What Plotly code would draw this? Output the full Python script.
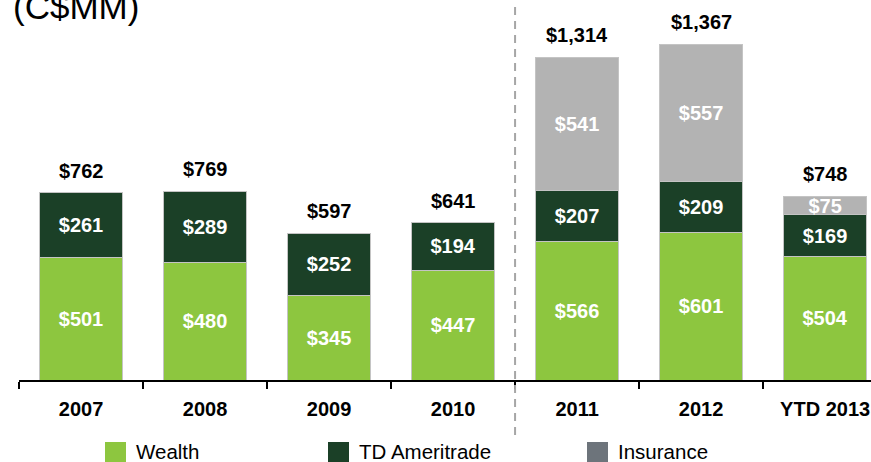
import plotly.graph_objects as go

categories = ["2007", "2008", "2009", "2010", "2011", "2012", "YTD 2013"]
wealth = [501, 480, 345, 447, 566, 601, 504]
td_ameritrade = [261, 289, 252, 194, 207, 209, 169]
insurance = [None, None, None, None, 541, 557, 75]
series_names = ["Wealth", "TD Ameritrade", "Insurance"]
totals = [w + t + (i or 0) for w, t, i in zip(wealth, td_ameritrade, insurance)]

FONT = "Arial, Liberation Sans, sans-serif"
W, H = 871, 462
ML, MR, MT, MB = 19, 0, 0, 82
PW, PH = W - ML - MR, H - MT - MB

def px(x):
    return (x - ML) / PW

def py(y):
    return (H - MB - y) / PH

bar_colors = ["#8DC63F", "#1B4027", "#B3B3B3"]
legend_colors = ["#8DC63F", "#1B4027", "#6D747B"]

fig = go.Figure()
for name, vals, col in zip(series_names, [wealth, td_ameritrade, insurance], bar_colors):
    fig.add_trace(go.Bar(
        x=categories, y=vals, name=name,
        marker=dict(color=col, line=dict(color="#C4C4C4", width=1)),
        texttemplate="$%{y:,}", textposition="inside", insidetextanchor="middle",
        textfont=dict(family=FONT, size=20, color="white", weight="bold"),
        showlegend=False, width=0.675, hoverinfo="skip",
    ))

annotations = []
for idx, t in enumerate(totals):
    annotations.append(dict(
        x=idx, y=t, xref="x", yref="y", text=f"${t:,}", showarrow=False,
        yanchor="bottom", yshift=9,
        font=dict(family=FONT, size=20, color="black", weight="bold"),
    ))

annotations.append(dict(
    x=px(11), y=py(28), xref="paper", yref="paper", text="(C$MM)", showarrow=False,
    xanchor="left", yanchor="bottom", font=dict(family=FONT, size=35, color="black"),
))

shapes = [dict(
    type="line", xref="x", yref="paper", x0=3.5, x1=3.5, y0=py(435), y1=py(5),
    line=dict(color="#A6A6A6", width=2, dash="8px,6px"),
)]

legend_x = [105, 328, 587]
for name, col, lx in zip(series_names, legend_colors, legend_x):
    shapes.append(dict(
        type="rect", xref="paper", yref="paper",
        x0=px(lx), x1=px(lx + 21), y0=py(463), y1=py(442),
        fillcolor=col, line=dict(width=0),
    ))
    annotations.append(dict(
        x=px(lx + 29), y=py(452), xref="paper", yref="paper", text=name,
        showarrow=False, xanchor="left", yanchor="middle",
        font=dict(family=FONT, size=20.5, color="black"),
    ))

fig.update_layout(
    width=W, height=H, barmode="stack",
    margin=dict(l=ML, r=MR, t=MT, b=MB, pad=0),
    plot_bgcolor="white", paper_bgcolor="white",
    uniformtext=dict(minsize=20, mode="show"),
    annotations=annotations, shapes=shapes,
    xaxis=dict(
        type="category", range=[-0.5, 6.37], tickson="boundaries",
        ticks="outside", ticklen=7, tickwidth=1.5, tickcolor="black",
        showline=True, linecolor="black", linewidth=1.5,
        showgrid=False, zeroline=False,
        tickfont=dict(family=FONT, size=20, color="black", weight="bold"),
        ticklabelstandoff=10,
    ),
    yaxis=dict(range=[0, 1548], visible=False, showgrid=False),
)

fig.write_html(
    "out.html",
    config={"displayModeBar": False},
    post_script="document.body.style.margin='0';document.body.style.overflow='hidden';",
)
